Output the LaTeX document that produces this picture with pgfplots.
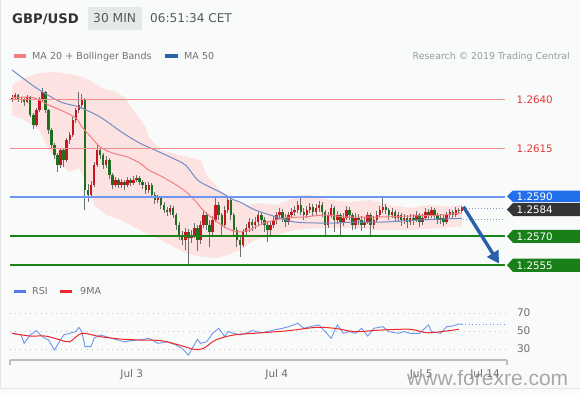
\documentclass[border=0pt]{standalone}
\usepackage{pgfplots}
\pgfplotsset{compat=1.18}
\usepackage{pgfplotstable}
\usepackage{fontspec}
\setmainfont{DejaVu Sans}
\newfontfamily\wmfont{Liberation Sans}
\usetikzlibrary{arrows.meta}

\definecolor{bgc}{RGB}{249,250,250}
\definecolor{titc}{RGB}{50,50,50}
\definecolor{boxc}{RGB}{228,234,232}
\definecolor{hdrc}{RGB}{85,90,95}
\definecolor{legc}{RGB}{115,115,115}
\definecolor{rsrc}{RGB}{150,155,160}
\definecolor{bandc}{RGB}{253,226,226}
\definecolor{ma20c}{RGB}{245,125,125}
\definecolor{ma50c}{RGB}{115,140,195}
\definecolor{wickc}{RGB}{110,110,110}
\definecolor{lvlred}{RGB}{242,140,140}
\definecolor{lvlblue}{RGB}{110,150,240}
\definecolor{lvlgreen}{RGB}{25,130,25}
\definecolor{txtred}{RGB}{232,55,55}
\definecolor{tagblue}{RGB}{35,110,235}
\definecolor{tagdark}{RGB}{50,52,54}
\definecolor{taggreen}{RGB}{25,128,25}
\definecolor{arrowc}{RGB}{42,96,170}
\definecolor{rsic}{RGB}{110,150,235}
\definecolor{rsimac}{RGB}{238,40,40}
\definecolor{gridc}{RGB}{195,195,195}
\definecolor{axc}{RGB}{190,190,190}
\definecolor{tickc}{RGB}{110,110,110}
\definecolor{wmc}{RGB}{140,140,140}
\definecolor{dotc}{RGB}{130,150,200}
\definecolor{framec}{RGB}{228,230,230}

% 30-minute candles: index, open, high, low, close
\pgfplotstableread{
i o h l c
0 1.26400 1.26425 1.26390 1.26410
1 1.26410 1.26435 1.26405 1.26426
2 1.26426 1.26432 1.26390 1.26400
3 1.26400 1.26418 1.26385 1.26405
4 1.26405 1.26412 1.26370 1.26390
5 1.26390 1.26425 1.26382 1.26415
6 1.26415 1.26420 1.26310 1.26323
7 1.26323 1.26335 1.26250 1.26271
8 1.26271 1.26360 1.26260 1.26348
9 1.26348 1.26415 1.26338 1.26400
10 1.26400 1.26462 1.26390 1.26441
11 1.26441 1.26448 1.26335 1.26348
12 1.26348 1.26355 1.26225 1.26245
13 1.26245 1.26255 1.26150 1.26168
14 1.26168 1.26180 1.26095 1.26116
15 1.26116 1.26125 1.26029 1.26065
16 1.26065 1.26155 1.26050 1.26142
17 1.26142 1.26150 1.26055 1.26091
18 1.26091 1.26205 1.26080 1.26194
19 1.26194 1.26235 1.26175 1.26220
20 1.26220 1.26310 1.26210 1.26297
21 1.26297 1.26360 1.26280 1.26348
22 1.26348 1.26441 1.26335 1.26374
23 1.26374 1.26430 1.26360 1.26400
24 1.26400 1.26410 1.25833 1.25936
25 1.25936 1.25965 1.25875 1.25910
26 1.25910 1.25980 1.25895 1.25962
27 1.25962 1.26080 1.25950 1.26065
28 1.26065 1.26168 1.26055 1.26142
29 1.26142 1.26155 1.26095 1.26116
30 1.26116 1.26128 1.26045 1.26065
31 1.26065 1.26110 1.26050 1.26091
32 1.26091 1.26100 1.25995 1.26013
33 1.26013 1.26025 1.25940 1.25962
34 1.25962 1.26005 1.25950 1.25988
35 1.25988 1.26000 1.25945 1.25962
36 1.25962 1.25992 1.25945 1.25977
37 1.25977 1.25990 1.25935 1.25962
38 1.25962 1.26005 1.25952 1.25988
39 1.25988 1.26000 1.25955 1.25972
40 1.25972 1.26008 1.25960 1.25988
41 1.25988 1.26015 1.25975 1.25998
42 1.25998 1.26010 1.25960 1.25977
43 1.25977 1.25990 1.25940 1.25962
44 1.25962 1.25975 1.25915 1.25936
45 1.25936 1.25975 1.25920 1.25962
46 1.25962 1.25972 1.25895 1.25910
47 1.25910 1.25925 1.25865 1.25885
48 1.25885 1.25910 1.25870 1.25895
49 1.25895 1.25905 1.25840 1.25859
50 1.25859 1.25875 1.25815 1.25833
51 1.25833 1.25850 1.25800 1.25823
52 1.25823 1.25860 1.25805 1.25843
53 1.25843 1.25855 1.25790 1.25807
54 1.25807 1.25815 1.25730 1.25756
55 1.25756 1.25770 1.25680 1.25704
56 1.25704 1.25725 1.25650 1.25678
57 1.25678 1.25740 1.25627 1.25720
58 1.25720 1.25735 1.25549 1.25689
59 1.25689 1.25730 1.25665 1.25704
60 1.25704 1.25765 1.25690 1.25740
61 1.25740 1.25755 1.25620 1.25678
62 1.25678 1.25775 1.25660 1.25756
63 1.25756 1.25830 1.25740 1.25807
64 1.25807 1.25825 1.25730 1.25756
65 1.25756 1.25780 1.25640 1.25720
66 1.25720 1.25800 1.25700 1.25781
67 1.25781 1.25905 1.25770 1.25859
68 1.25859 1.25875 1.25780 1.25807
69 1.25807 1.25820 1.25700 1.25756
70 1.25756 1.25855 1.25740 1.25833
71 1.25833 1.25905 1.25820 1.25885
72 1.25885 1.25895 1.25780 1.25807
73 1.25807 1.25820 1.25700 1.25730
74 1.25730 1.25745 1.25640 1.25678
75 1.25678 1.25700 1.25591 1.25653
76 1.25653 1.25735 1.25640 1.25720
77 1.25720 1.25760 1.25695 1.25740
78 1.25740 1.25790 1.25720 1.25771
79 1.25771 1.25785 1.25725 1.25756
80 1.25756 1.25795 1.25735 1.25771
81 1.25771 1.25825 1.25755 1.25807
82 1.25807 1.25820 1.25760 1.25781
83 1.25781 1.25795 1.25720 1.25756
84 1.25756 1.25775 1.25670 1.25730
85 1.25730 1.25775 1.25705 1.25756
86 1.25756 1.25800 1.25740 1.25781
87 1.25781 1.25825 1.25760 1.25807
88 1.25807 1.25845 1.25785 1.25823
89 1.25823 1.25840 1.25770 1.25792
90 1.25792 1.25810 1.25745 1.25771
91 1.25771 1.25825 1.25755 1.25807
92 1.25807 1.25845 1.25790 1.25823
93 1.25823 1.25855 1.25800 1.25833
94 1.25833 1.25880 1.25815 1.25859
95 1.25859 1.25905 1.25805 1.25823
96 1.25823 1.25845 1.25780 1.25807
97 1.25807 1.25855 1.25790 1.25833
98 1.25833 1.25870 1.25820 1.25848
99 1.25848 1.25865 1.25800 1.25823
100 1.25823 1.25865 1.25805 1.25843
101 1.25843 1.25880 1.25825 1.25859
102 1.25859 1.25875 1.25795 1.25823
103 1.25823 1.25835 1.25704 1.25756
104 1.25756 1.25825 1.25740 1.25807
105 1.25807 1.25865 1.25790 1.25843
106 1.25843 1.25855 1.25720 1.25781
107 1.25781 1.25830 1.25760 1.25807
108 1.25807 1.25820 1.25694 1.25771
109 1.25771 1.25815 1.25750 1.25792
110 1.25792 1.25855 1.25780 1.25833
111 1.25833 1.25850 1.25780 1.25807
112 1.25807 1.25820 1.25730 1.25756
113 1.25756 1.25815 1.25735 1.25792
114 1.25792 1.25810 1.25755 1.25781
115 1.25781 1.25800 1.25725 1.25756
116 1.25756 1.25795 1.25740 1.25771
117 1.25771 1.25825 1.25760 1.25807
118 1.25807 1.25820 1.25704 1.25756
119 1.25756 1.25800 1.25735 1.25781
120 1.25781 1.25830 1.25770 1.25807
121 1.25807 1.25855 1.25795 1.25833
122 1.25833 1.25895 1.25820 1.25848
123 1.25848 1.25865 1.25810 1.25833
124 1.25833 1.25845 1.25780 1.25807
125 1.25807 1.25845 1.25790 1.25823
126 1.25823 1.25835 1.25770 1.25792
127 1.25792 1.25825 1.25770 1.25807
128 1.25807 1.25820 1.25750 1.25781
129 1.25781 1.25810 1.25760 1.25792
130 1.25792 1.25805 1.25740 1.25771
131 1.25771 1.25810 1.25755 1.25792
132 1.25792 1.25810 1.25755 1.25781
133 1.25781 1.25830 1.25770 1.25807
134 1.25807 1.25820 1.25745 1.25771
135 1.25771 1.25810 1.25755 1.25792
136 1.25792 1.25845 1.25780 1.25823
137 1.25823 1.25840 1.25785 1.25807
138 1.25807 1.25850 1.25790 1.25833
139 1.25833 1.25845 1.25785 1.25807
140 1.25807 1.25820 1.25760 1.25781
141 1.25781 1.25810 1.25760 1.25792
142 1.25792 1.25805 1.25750 1.25771
143 1.25771 1.25825 1.25760 1.25807
144 1.25807 1.25840 1.25790 1.25823
145 1.25823 1.25835 1.25790 1.25807
146 1.25807 1.25850 1.25795 1.25833
147 1.25833 1.25845 1.25810 1.25828
148 1.25828 1.25855 1.25820 1.25843
}\candles

\begin{document}
\begin{tikzpicture}[x=1pt,y=1pt]
\fill[bgc] (0,0) rectangle (580,-393);
\draw[framec, line width=0.8pt] (0.5,-0.5) -- (0.5,-388) -- (579.5,-388);

% header
\node[anchor=base west, inner sep=0, text=titc, font=\fontsize{13.2}{15}\selectfont\bfseries] at (12,-23.3) {GBP/USD};
\fill[boxc] (88,-7) rectangle (142,-30);
\node[anchor=base west, inner sep=0, text=hdrc, font=\fontsize{12.3}{14}\selectfont] at (93,-22.7) {30 MIN};
\node[anchor=base west, inner sep=0, text=hdrc, font=\fontsize{12.1}{14}\selectfont] at (150,-22.7) {06:51:34 CET};

% legend
\fill[ma20c] (14,-54.3) rectangle (26,-57.7);
\node[anchor=base west, inner sep=0, text=legc, font=\fontsize{9.6}{11}\selectfont] at (32,-60) {MA 20 + Bollinger Bands};
\fill[arrowc] (165,-54.3) rectangle (178,-57.7);
\node[anchor=base west, inner sep=0, text=legc, font=\fontsize{9.6}{11}\selectfont] at (184,-60) {MA 50};
\node[anchor=base east, inner sep=0, text=rsrc, font=\fontsize{9.4}{11}\selectfont] at (570,-59.5) {Research © 2019 Trading Central};

\begin{axis}[at={(10pt,-275pt)}, anchor=south west, scale only axis,
  width=495pt, height=210pt,
  xmin=-0.66, xmax=162.17, ymin=1.254979, ymax=1.265804,
  axis lines=none, ticks=none, clip=false,
  colormap={updown}{rgb255=(30,112,30) rgb255=(200,22,32)},
  point meta min=0, point meta max=1]

% Bollinger band (upper left to right, lower right to left)
\addplot[fill=bandc, draw=none] coordinates {
(0,1.26477) (4,1.26513) (9,1.26539) (14,1.26544) (19,1.26534) (23,1.26519)
(26,1.26498) (29,1.26467) (34,1.26441) (37,1.26415) (40,1.26348) (44,1.26256)
(45,1.26209) (49,1.26142) (55,1.26116) (62,1.26091) (64,1.26013) (67,1.25962)
(70,1.25911) (73,1.25880) (77,1.25859) (82,1.25869) (87,1.25859) (91,1.25885)
(95,1.25910) (98,1.25910) (105,1.25885) (111,1.25874) (118,1.25885) (124,1.25859)
(131,1.25843) (137,1.25859) (144,1.25850) (148,1.25860)
(148,1.25750) (141,1.25740) (131,1.25730) (121,1.25730) (111,1.25740) (101,1.25740)
(93,1.25730) (87,1.25704) (80,1.25678) (75,1.25627) (68,1.25586) (63,1.25591)
(57,1.25611) (49,1.25678) (42,1.25730) (36,1.25781) (31,1.25807) (27,1.25859)
(25,1.25962) (22,1.26050) (19,1.26029) (16,1.26065) (12,1.26142) (9,1.26245)
(4,1.26297) (0,1.26323)} -- cycle;

% candles: wicks then bodies
\addplot[quiver={u=0, v=\thisrow{h}-\thisrow{l}}, draw=wickc, line width=1pt]
  table[x=i, y=l] {\candles};
\addplot[quiver={u=0, v=\thisrow{c}-\thisrow{o}, colored=mapped color},
  point meta={ifthenelse(\thisrow{c}>\thisrow{o},1,0)}, line width=2.5pt]
  table[x=i, y=o] {\candles};

% MA 20
\addplot[ma20c, line width=1pt, smooth] coordinates {
(0,1.26412) (6,1.26415) (9,1.26400) (12,1.26374) (16,1.26348) (21,1.26307)
(23,1.26261) (26,1.26209) (29,1.26158) (33,1.26127) (38,1.26106) (42,1.26075)
(45,1.26039) (49,1.26008) (53,1.25972) (57,1.25930) (60,1.25885) (63,1.25830)
(66,1.25790) (70,1.25745) (74,1.25720) (78,1.25730) (83,1.25766) (90,1.25792)
(96,1.25797) (103,1.25807) (110,1.25797) (121,1.25797) (131,1.25802) (141,1.25807)
(148,1.25818)};
% MA 50
\addplot[ma50c, line width=1pt, smooth] coordinates {
(0,1.26555) (8,1.26462) (16,1.26390) (22,1.26364) (29,1.26312) (36,1.26235)
(42,1.26178) (47,1.26142) (52,1.26106) (57,1.26065) (61,1.25988) (65,1.25952)
(69,1.25921) (73,1.25885) (75,1.25874) (80,1.25833) (87,1.25797) (93,1.25771)
(100,1.25766) (106,1.25766) (113,1.25771) (122,1.25771) (133,1.25781) (148,1.25790)};

% levels
\addplot[lvlred, line width=1pt] coordinates {(-0.66,1.2640) (162.17,1.2640)};
\addplot[lvlred, line width=1pt] coordinates {(-0.66,1.2615) (162.17,1.2615)};
\addplot[lvlblue, line width=1.5pt] coordinates {(-0.66,1.2590) (162.17,1.2590)};
\addplot[lvlgreen, line width=2.4pt] coordinates {(-0.66,1.2570) (162.17,1.2570)};
\addplot[lvlgreen, line width=2.4pt] coordinates {(-0.66,1.2555) (162.17,1.2555)};
\addplot[dotc, line width=0.9pt, dash pattern=on 1pt off 2pt] coordinates {(148.5,1.2584) (162.17,1.2584)};
\addplot[dotc, line width=0.9pt, dash pattern=on 1pt off 2pt] coordinates {(148.5,1.25786) (162.17,1.25786)};

% forecast arrow
\addplot[arrowc, line width=3.4pt, -{Triangle[length=12pt,width=13pt]}]
  coordinates {(148.5,1.25850) (160.2,1.25557)};
\end{axis}

% price tags
\fill[tagblue] (507,-196.3) -- (513,-190.5) -- (580,-190.5) -- (580,-202) -- (513,-202) -- cycle;
\node[anchor=base west, inner sep=0, text=white, font=\fontsize{10.3}{12}\selectfont] at (516.5,-200.1) {1.2590};
\fill[tagdark] (507,-209.5) -- (513,-203) -- (580,-203) -- (580,-216) -- (513,-216) -- cycle;
\node[anchor=base west, inner sep=0, text=white, font=\fontsize{10.3}{12}\selectfont] at (516.5,-213.3) {1.2584};
\fill[taggreen] (507,-236.3) -- (513,-229.8) -- (580,-229.8) -- (580,-242.8) -- (513,-242.8) -- cycle;
\node[anchor=base west, inner sep=0, text=white, font=\fontsize{10.3}{12}\selectfont] at (516.5,-240.1) {1.2570};
\fill[taggreen] (507,-265.2) -- (513,-258.5) -- (580,-258.5) -- (580,-271.9) -- (513,-271.9) -- cycle;
\node[anchor=base west, inner sep=0, text=white, font=\fontsize{10.3}{12}\selectfont] at (516.5,-269.0) {1.2555};
\node[anchor=base west, inner sep=0, text=txtred, font=\fontsize{10.3}{12}\selectfont] at (516.5,-103.8) {1.2640};
\node[anchor=base west, inner sep=0, text=txtred, font=\fontsize{10.3}{12}\selectfont] at (516.5,-152.3) {1.2615};

% RSI legend
\fill[rsic!80!blue] (14,-290) rectangle (26,-293.4);
\node[anchor=base west, inner sep=0, text=legc, font=\fontsize{9.6}{11}\selectfont] at (32,-294.5) {RSI};
\fill[rsimac] (60,-290) rectangle (72,-293.4);
\node[anchor=base west, inner sep=0, text=legc, font=\fontsize{9.6}{11}\selectfont] at (80,-294.5) {9MA};

\begin{axis}[at={(10pt,-360pt)}, anchor=south west, scale only axis,
  width=495pt, height=60pt,
  xmin=-0.66, xmax=162.17, ymin=17.8, ymax=84.4,
  clip=false, axis line style={draw=none},
  major tick length=0pt,
  ytick={30,50,70}, yticklabel pos=right,
  xtick={39.4,87.1,134.6,155.6},
  xticklabels={Jul 3, Jul 4, Jul 5, Jul 14},
  ymajorgrids, grid style={gridc, line width=0.9pt, dash pattern=on 0.9pt off 4.2pt},
  /pgf/number format/assume math mode=true,
  tick label style={font=\fontsize{10.5}{12}\selectfont, text=tickc},
  yticklabel style={xshift=8.5pt},
  xticklabel style={yshift=-6pt}]
\addplot[rsic, line width=0.9pt] coordinates {
(0,47.4) (3,45.6) (4,36.3) (6,45.6) (8,50.4) (10,43.7) (12,40.0) (14,28.9)
(16,40.7) (17,45.6) (19,47.4) (21,49.3) (22,54.0) (23,49.0) (24,32.6) (26,32.6)
(27,41.9) (29,45.6) (31,43.7) (34,40.7) (37,38.0) (39,39.3) (42,40.0) (45,41.9)
(48,36.3) (51,38.0) (54,34.4) (56,30.7) (58,23.3) (59,29.0) (61,40.7) (62,36.3)
(64,38.0) (66,47.4) (68,53.0) (70,43.7) (71,49.3) (73,47.4) (75,45.6) (77,47.4)
(79,50.4) (82,48.0) (84,49.3) (86,51.0) (89,53.0) (91,54.8) (94,58.5) (96,53.0)
(98,54.8) (101,56.7) (103,49.3) (105,41.9) (107,56.7) (109,47.4) (111,49.3) (113,47.4)
(115,53.0) (117,44.4) (119,53.0) (122,54.8) (124,49.3) (127,47.4) (129,49.3) (131,47.4)
(134,47.4) (137,56.7) (138,49.3) (141,47.4) (143,54.8) (145,55.6) (147,57.8) (148,57.5)};
\addplot[rsimac, line width=1pt, smooth] coordinates {
(0,47.4) (6,44.4) (11,44.4) (16,40.0) (19,38.0) (23,47.4) (29,43.7) (36,41.0)
(42,40.0) (49,39.3) (55,34.4) (60,29.6) (63,30.7) (67,40.0) (73,45.6) (82,48.0)
(91,50.4) (100,54.0) (106,53.0) (113,49.3) (121,51.0) (131,51.9) (137,48.0) (147,51.9)};
\addplot[rsic, line width=0.9pt, dash pattern=on 1pt off 2.5pt] coordinates {(148,57.5) (162.17,57.5)};
\draw[axc, line width=1.8pt] (rel axis cs:0,0) -- (rel axis cs:1.004,0);
\draw[axc, line width=1.2pt] (rel axis cs:0,0) -- ++(0pt,-5pt);
\draw[axc, line width=1.2pt] (rel axis cs:1.004,0) -- ++(0pt,-5pt);
\end{axis}

% watermark
\node[anchor=base west, inner sep=0, text=wmc, opacity=0.75, font=\wmfont\fontsize{21}{24}\selectfont] at (407,-385) {www.forexre.com};
\end{tikzpicture}
\end{document}
